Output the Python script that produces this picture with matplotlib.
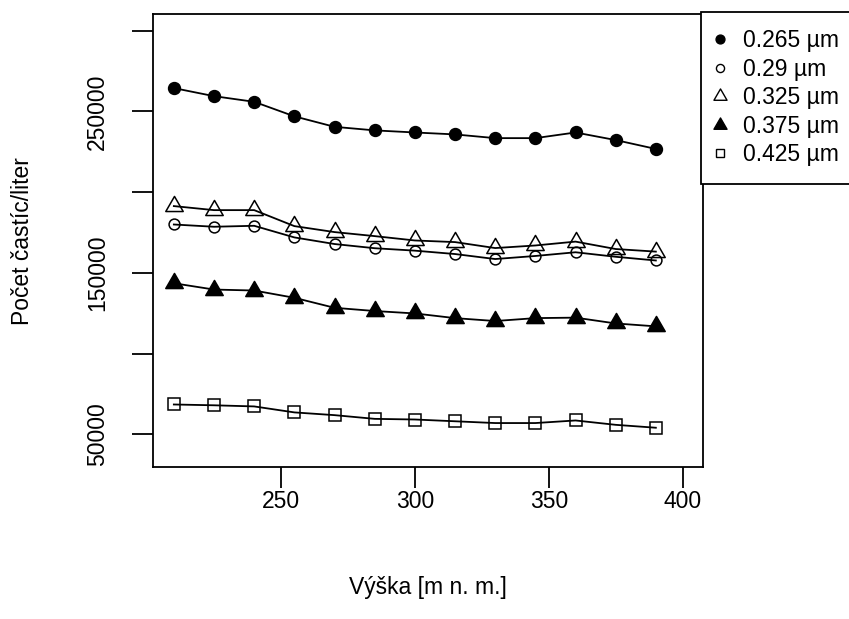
import matplotlib
matplotlib.use('Agg')
import matplotlib.pyplot as plt
from matplotlib.lines import Line2D
from matplotlib.path import Path

plt.rcParams['font.family'] = ['Liberation Sans', 'DejaVu Sans']

# heights (m n. m.)
vyska = [210, 225, 240, 255, 270, 285, 300, 315, 330, 345, 360, 375, 390]

# particle counts per liter for each size channel
p0265 = [264500, 259500, 256000, 247000, 240500, 238300, 237000, 235800, 233500, 233500, 237000, 232300, 226800]
p029 = [180000, 178600, 179200, 172000, 167900, 165300, 163800, 161700, 158600, 160500, 162800, 160000, 157700]
p0325 = [191400, 188900, 188900, 179000, 175300, 172800, 170100, 169100, 165400, 167000, 169400, 164800, 163200]
p0375 = [143600, 139700, 139100, 134600, 128400, 126400, 124900, 122000, 120200, 122000, 122300, 118700, 116900]
p0425 = [68500, 68000, 67300, 63600, 61900, 59600, 59200, 58100, 57000, 57000, 58600, 55900, 54100]

labels = ['0.265 µm', '0.29 µm', '0.325 µm', '0.375 µm', '0.425 µm']

# R-like triangle (pch 2/17), centred on its centroid
tri = Path([(0, 1.555), (1.347, -0.778), (-1.347, -0.778), (0, 1.555)],
           [Path.MOVETO, Path.LINETO, Path.LINETO, Path.CLOSEPOLY])

styles = [
    dict(marker='o', ms=8.5, mfc='black'),
    dict(marker='o', ms=7.8, mfc='none'),
    dict(marker=tri, ms=14.5, mfc='none'),
    dict(marker=tri, ms=14.5, mfc='black'),
    dict(marker='s', ms=8.5, mfc='none'),
]

fs = 16.5

fig = plt.figure(figsize=(8.49, 6.19), dpi=100)
ax = fig.add_axes([0.1808, 0.2451, 0.828 - 0.1808, 0.9774 - 0.2451])

for ys, st in zip([p0265, p029, p0325, p0375, p0425], styles):
    ax.plot(vyska, ys, color='black', lw=1.3, marker=st['marker'],
            ms=st['ms'], mfc=st['mfc'], mec='black', mew=1.1)

ax.set_xlim(202.4, 407.6)
ax.set_ylim(29600, 310400)
ax.set_xticks([250, 300, 350, 400])
ax.set_yticks([50000, 100000, 150000, 200000, 250000, 300000])
ax.set_yticklabels(['50000', '', '150000', '', '250000', ''])

for s in ax.spines.values():
    s.set_linewidth(1.3)
ax.tick_params(direction='out', length=15, width=1.3, labelsize=fs)
ax.tick_params(axis='x', pad=1)
ax.tick_params(axis='y', pad=17, labelrotation=90)
for t in ax.get_yticklabels():
    t.set_va('center')

ax.set_xlabel('Výška [m n. m.]', fontsize=fs)
ax.xaxis.set_label_coords(0.5, -0.266)
ax.xaxis.label.set_va('center')
ax.set_ylabel('Počet častíc/liter', fontsize=fs)
ax.yaxis.set_label_coords(-0.2375, 0.5)
ax.yaxis.label.set_va('center')

handles = []
for st, lab in zip(styles, labels):
    handles.append(Line2D([], [], ls='none', color='black', marker=st['marker'],
                          ms=st['ms'] * 0.75, mfc=st['mfc'], mec='black', mew=1.0,
                          label=lab))
leg = fig.legend(handles=handles, loc='upper left',
                 bbox_to_anchor=(701 / 849, 1 - 11.7 / 619),
                 bbox_transform=fig.transFigure, fontsize=fs,
                 frameon=True, fancybox=False, framealpha=1, edgecolor='black',
                 handlelength=0.1, handletextpad=0.97, labelspacing=0.24,
                 borderpad=0.77, borderaxespad=0)
leg.get_frame().set_linewidth(1.3)

fig.savefig('out.png', dpi=100)
